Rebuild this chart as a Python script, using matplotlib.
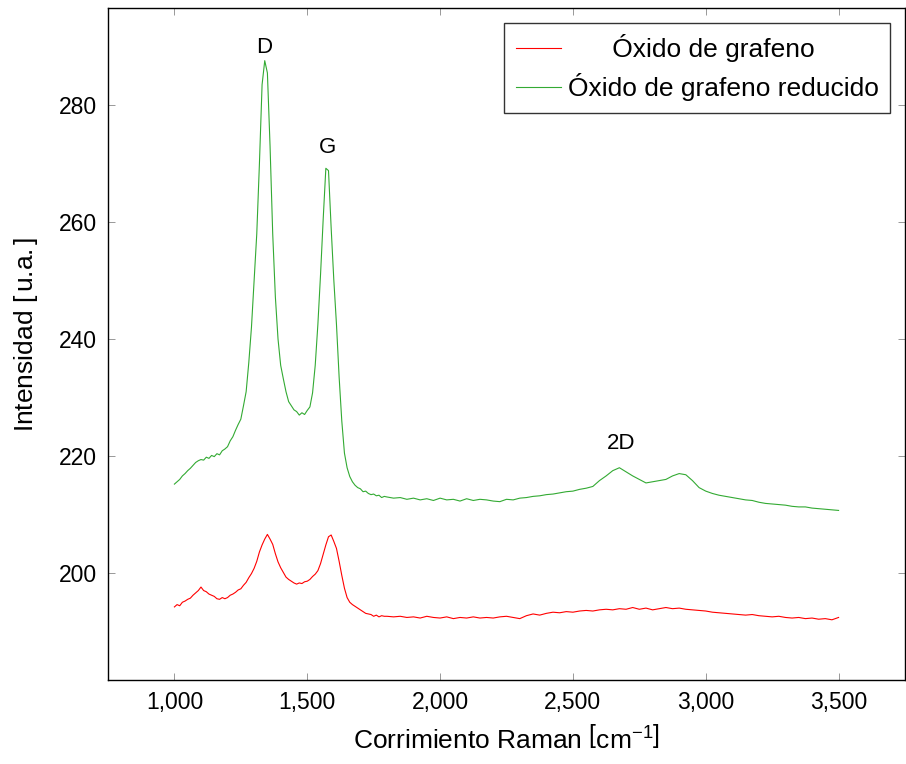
#Espectro Raman: óxido de grafeno y óxido de grafeno reducido
import numpy as np
import matplotlib.pyplot as plt
from matplotlib.ticker import StrMethodFormatter

plt.rcParams['font.family'] = ['Liberation Sans', 'DejaVu Sans']
plt.rcParams['mathtext.fontset'] = 'custom'
plt.rcParams['mathtext.rm'] = 'Liberation Sans'
plt.rcParams['mathtext.it'] = 'Liberation Sans:italic'

#eje x: paso 10 hasta 1790, paso 25 desde 1800
raman_fino = np.arange(1000, 1800, 10)
raman_grueso = np.arange(1800, 3501, 25)

#óxido de grafeno reducido (verde)
rgo_fino = [215.2, 215.6, 216.0, 216.6, 217.0, 217.5, 217.9, 218.4, 218.9, 219.2,
            219.4, 219.3, 219.8, 219.6, 220.1, 219.9, 220.4, 220.2, 220.9, 221.2,
            221.6, 222.6, 223.3, 224.4, 225.4, 226.3, 228.6, 231.0, 236.0, 242.0,
            250.0, 258.0, 270.0, 283.5, 287.6, 285.5, 273.0, 258.0, 247.2, 240.0,
            235.5, 233.2, 231.0, 229.3, 228.6, 227.9, 227.6, 227.0, 227.4, 227.1,
            227.8, 228.4, 230.8, 235.5, 242.5, 251.0, 260.5, 269.2, 268.8, 259.0,
            250.1, 242.5, 233.5, 226.0, 220.5, 218.0, 216.5, 215.6, 215.0, 214.6,
            214.4, 213.9, 214.0, 213.6, 213.4, 213.5, 213.2, 213.3, 212.9, 213.1]
rgo_grueso = [213.0, 212.8, 212.9, 212.6, 212.8, 212.5, 212.7, 212.4, 212.8, 212.5,
              212.6, 212.3, 212.7, 212.4, 212.6, 212.5, 212.3, 212.2, 212.6, 212.5,
              212.8, 212.9, 213.1, 213.2, 213.4, 213.5, 213.7, 213.9, 214.0, 214.3,
              214.5, 214.8, 215.8, 216.6, 217.5, 218.0, 217.3, 216.6, 216.0, 215.4,
              215.6, 215.8, 216.0, 216.6, 217.0, 216.8, 215.8, 214.6, 214.0, 213.6,
              213.3, 213.1, 212.9, 212.7, 212.5, 212.4, 212.1, 211.9, 211.8, 211.7,
              211.6, 211.4, 211.3, 211.3, 211.1, 211.0, 210.9, 210.8, 210.7]

#óxido de grafeno (rojo)
go_fino = [194.2, 194.6, 194.4, 195.0, 195.2, 195.5, 195.7, 196.2, 196.6, 197.0,
           197.6, 197.0, 196.8, 196.4, 196.2, 196.0, 195.6, 195.5, 195.8, 195.6,
           195.8, 196.2, 196.4, 196.7, 197.1, 197.3, 197.9, 198.4, 199.2, 199.9,
           200.8, 202.0, 203.6, 204.8, 205.8, 206.6, 205.8, 204.9, 203.3, 201.9,
           200.9, 200.1, 199.3, 198.9, 198.6, 198.3, 198.1, 198.3, 198.2, 198.5,
           198.6, 198.9, 199.4, 199.8, 200.4, 201.6, 203.2, 204.8, 206.2, 206.5,
           205.4, 204.2, 202.0, 199.6, 197.4, 195.8, 195.0, 194.6, 194.3, 194.0,
           193.7, 193.4, 193.1, 193.0, 192.9, 192.6, 192.8, 192.5, 192.7, 192.6]
go_grueso = [192.6, 192.5, 192.6, 192.4, 192.5, 192.3, 192.6, 192.4, 192.3, 192.5,
             192.2, 192.4, 192.3, 192.5, 192.3, 192.4, 192.3, 192.5, 192.6, 192.4,
             192.2, 192.7, 193.0, 192.8, 193.1, 193.3, 193.2, 193.4, 193.3, 193.5,
             193.6, 193.5, 193.7, 193.8, 193.7, 193.9, 193.8, 194.1, 193.8, 194.0,
             193.7, 193.9, 194.1, 193.9, 194.0, 193.8, 193.7, 193.6, 193.5, 193.3,
             193.2, 193.1, 193.0, 192.9, 192.8, 192.9, 192.7, 192.6, 192.5, 192.6,
             192.4, 192.3, 192.4, 192.2, 192.3, 192.1, 192.2, 192.0, 192.4]

#etiquetas de los picos
picos = ["D", "G", "2D"]
picos_x = [1338, 1575, 2680]
picos_y = [289.9, 272.8, 222.2]

raman = np.concatenate([raman_fino, raman_grueso])
rgo = np.array(rgo_fino + rgo_grueso)
go = np.array(go_fino + go_grueso)

fig = plt.figure(figsize=(9.06, 7.64), dpi=100)
ax = fig.add_axes([0.1192, 0.1099, 0.8797, 0.8796])

ax.plot(raman, go, color="#ff0000", lw=0.8, label="      Óxido de grafeno")
ax.plot(raman, rgo, color="#33aa33", lw=0.8, label="Óxido de grafeno reducido")

for p, px, py in zip(picos, picos_x, picos_y):
    ax.text(px, py, p, ha="center", va="center", fontsize=16)

ax.set_xlim(750, 3750)
ax.set_ylim(181.7, 296.6)
ax.set_xticks([1000, 1500, 2000, 2500, 3000, 3500])
ax.set_yticks([200, 220, 240, 260, 280])
ax.xaxis.set_major_formatter(StrMethodFormatter("{x:,.0f}"))
ax.tick_params(direction="in", length=5, width=0.6, color="#888888",
               top=True, right=True, labelsize=16.5, pad=8)
for s in ax.spines.values():
    s.set_linewidth(1.0)

ax.set_xlabel(r"Corrimiento Raman $\left[\mathrm{cm}^{-1}\right]$", fontsize=19, labelpad=8)
ax.set_ylabel(r"Intensidad $[\,$u.a.$\,]$", fontsize=19)
ax.yaxis.set_label_coords(-0.085, 0.515)

leg = ax.legend(loc="upper right", fontsize=19, frameon=True, fancybox=False,
                edgecolor="black", handlelength=1.7, handletextpad=0.25,
                borderaxespad=0.55, labelspacing=0.42, borderpad=0.45)
leg.get_frame().set_linewidth(1.0)

plt.savefig("out.png")
